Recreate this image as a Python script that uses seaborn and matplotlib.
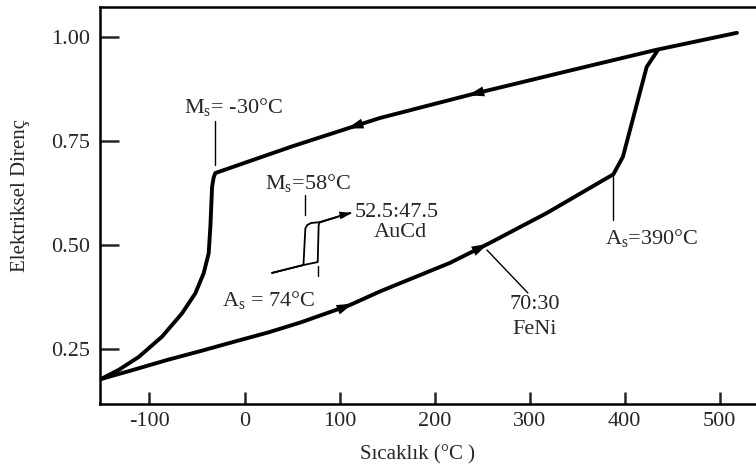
"""
plot.py — FeNi ve AuCd alaşımlarında elektriksel direnç / sıcaklık histerezisi

Çıktı: out.png (756x470)
"""

import numpy as np
import matplotlib
matplotlib.use("Agg")
import matplotlib.pyplot as plt
import seaborn as sns

# 70:30 FeNi — soğutma kolu (üst doğru + Ms'de düşüş)
feni_cool_x = [518, 433, 340, 237, 142, 50, -30.7, -32.5, -34.1, -35.9, -37.7, -43.0, -51.7,
               -65.7, -86.7, -111.3, -132.3, -151]
feni_cool_y = [1.010, 0.969, 0.918, 0.861, 0.805, 0.737, 0.673, 0.662, 0.640, 0.544, 0.480,
               0.432, 0.384, 0.336, 0.280, 0.231, 0.200, 0.178]

# 70:30 FeNi — ısıtma kolu (alt eğri + As yükselişi)
feni_heat_x = [-151, -117, -81, -45, -12, 25, 59, 111, 143, 216, 258, 318, 388, 398, 423, 435]
feni_heat_y = [0.178, 0.200, 0.224, 0.246, 0.267, 0.290, 0.314, 0.356, 0.389, 0.457, 0.505,
               0.577, 0.670, 0.712, 0.928, 0.969]

# 52.5:47.5 AuCd — dar histerezis
aucd_cool_x = [111, 80, 70, 66, 64, 62, 29]
aucd_cool_y = [0.577, 0.555, 0.553, 0.548, 0.540, 0.452, 0.433]
aucd_heat_x = [29, 62, 77, 78, 79, 111]
aucd_heat_y = [0.433, 0.452, 0.459, 0.548, 0.555, 0.577]

x_ticks = [-100, 0, 100, 200, 300, 400, 500]
y_ticks = [0.25, 0.50, 0.75, 1.00]
y_tick_labels = ["0.25", "0.50", "0.75", "1.00"]

# yön okları (x konumu)
cool_arrow_x = [108, 235]
heat_arrow_x = [114, 256]

SERIF = ["Liberation Serif", "DejaVu Serif"]


def setup_style():
    sns.set_theme(style="ticks")
    plt.rcParams["font.family"] = SERIF
    plt.rcParams["axes.unicode_minus"] = False
    plt.rcParams["mathtext.fontset"] = "custom"
    plt.rcParams["mathtext.rm"] = "Liberation Serif"
    plt.rcParams["mathtext.it"] = "Liberation Serif:italic"


def curve_y(xs, ys, x):
    xs = np.asarray(xs, dtype=float)
    ys = np.asarray(ys, dtype=float)
    order = np.argsort(xs)
    return float(np.interp(x, xs[order], ys[order]))


def add_arrow(ax, xs, ys, x, direction, scale=13):
    d = 6 * direction
    x0 = x - d
    ax.annotate("", xy=(x, curve_y(xs, ys, x)), xytext=(x0, curve_y(xs, ys, x0)),
                arrowprops=dict(arrowstyle="-|>,head_length=0.9,head_width=0.28",
                                color="black", lw=0, mutation_scale=scale,
                                shrinkA=0, shrinkB=0))


def main():
    setup_style()
    fig = plt.figure(figsize=(7.56, 4.70), dpi=100)
    ax = fig.add_axes([100 / 756, 1 - 404 / 470, 656 / 756, 397 / 470])

    # FeNi eğrileri
    sns.lineplot(x=feni_cool_x, y=feni_cool_y, sort=False, estimator=None,
                 color="black", lw=2.8, ax=ax)
    sns.lineplot(x=feni_heat_x, y=feni_heat_y, sort=False, estimator=None,
                 color="black", lw=2.8, ax=ax)

    # AuCd eğrileri
    sns.lineplot(x=aucd_cool_x, y=aucd_cool_y, sort=False, estimator=None,
                 color="black", lw=1.3, ax=ax)
    sns.lineplot(x=aucd_heat_x, y=aucd_heat_y, sort=False, estimator=None,
                 color="black", lw=1.3, ax=ax)

    # üst kol düz kısmı (ok için)
    top_x = feni_cool_x[:7]
    top_y = feni_cool_y[:7]
    for xa in cool_arrow_x:
        add_arrow(ax, top_x, top_y, xa, -1)
    for xa in heat_arrow_x:
        add_arrow(ax, feni_heat_x[:12], feni_heat_y[:12], xa, 1)
    add_arrow(ax, aucd_heat_x[-2:], aucd_heat_y[-2:], 113, 1, scale=10)

    # açıklama çizgileri
    leaders = [
        ((-30.7, -30.7), (0.798, 0.692)),
        ((64, 64), (0.620, 0.572)),
        ((77.5, 77.5), (0.449, 0.425)),
        ((388, 388), (0.673, 0.560)),
        ((255, 298), (0.488, 0.385)),
    ]
    for lx, ly in leaders:
        ax.plot(lx, ly, color="black", lw=1.0)

    fs = 16
    ax.text(-12, 0.832, "M$_\\mathrm{s}$= -30°C", fontsize=fs, ha="center", va="center")
    ax.text(67, 0.649, "M$_\\mathrm{s}$=58°C", fontsize=fs, ha="center", va="center")
    ax.text(116, 0.579, "52.5:47.5", fontsize=fs, ha="left", va="center")
    ax.text(164, 0.529, "AuCd", fontsize=fs, ha="center", va="center")
    ax.text(25, 0.368, "A$_\\mathrm{s}$ = 74°C", fontsize=fs, ha="center", va="center")
    ax.text(428, 0.517, "A$_\\mathrm{s}$=390°C", fontsize=fs, ha="center", va="center")
    ax.text(305, 0.356, "70:30", fontsize=fs, ha="center", va="center")
    ax.text(305, 0.296, "FeNi", fontsize=fs, ha="center", va="center")

    ax.set_xlim(-152, 538)
    ax.set_ylim(0.118, 1.072)
    ax.set_xticks(x_ticks)
    ax.set_yticks(y_ticks)
    ax.set_yticklabels(y_tick_labels)
    ax.tick_params(axis="x", direction="in", length=9, width=1.8, pad=6, labelsize=16)
    ax.tick_params(axis="y", direction="in", length=14, width=1.8, pad=7, labelsize=16)

    for side in ["left", "bottom", "top"]:
        ax.spines[side].set_linewidth(1.8)
        ax.spines[side].set_color("black")
    ax.spines["right"].set_visible(False)

    ax.set_xlabel("Sıcaklık (°C )", fontsize=15, va="center")
    ax.set_ylabel("Elektriksel Direnç", fontsize=15, va="center")
    ax.xaxis.set_label_coords((418 - 100) / 656, (404 - 455) / 397)
    ax.yaxis.set_label_coords((21 - 100) / 656, (404 - 195) / 397)

    fig.savefig("out.png", dpi=100)
    plt.close(fig)


if __name__ == "__main__":
    main()
